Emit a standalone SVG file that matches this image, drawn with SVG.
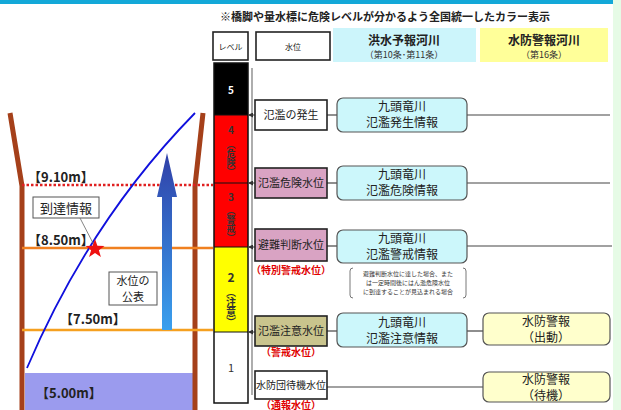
<svg xmlns="http://www.w3.org/2000/svg" width="621" height="410" viewBox="0 0 621 410">
<style>
text{font-family:"Noto Sans CJK JP","Noto Sans",sans-serif;}
.t{font-size:11px;fill:#222;text-anchor:middle;}
.tb{font-size:12px;fill:#222;text-anchor:middle;}
.r{font-size:10px;fill:#e00000;font-weight:bold;text-anchor:middle;}
.lv{font-size:10px;fill:#333;font-weight:bold;text-anchor:middle;}
.vt{font-size:9px;fill:#333;font-weight:bold;text-anchor:middle;writing-mode:vertical-rl;}
.m{font-size:13px;fill:#222;font-weight:bold;}
.box{stroke:#222;stroke-width:1.6;}
.info{fill:#ccf7fb;stroke:#555;stroke-width:1.2;}
.winfo{fill:#ffffcc;stroke:#555;stroke-width:1.2;}
.ln{stroke:#444;stroke-width:1.2;fill:none;}
.post{stroke:#a5401a;stroke-width:5;fill:none;}
</style>
<defs>
<linearGradient id="ag" x1="0" y1="0" x2="0" y2="1">
<stop offset="0" stop-color="#3040a8"/>
<stop offset="1" stop-color="#3aa0ee"/>
</linearGradient>
<marker id="ah" markerWidth="5" markerHeight="5" refX="4" refY="2.5" orient="auto">
<path d="M0,0 L5,2.5 L0,5 z" fill="#333"/>
</marker>
</defs>
<rect x="0" y="0" width="613" height="4" fill="#13a8d8"/>
<rect x="613" y="0" width="8" height="410" fill="#e6fbe6"/>

<text x="385" y="21" style="font-size:11px;font-weight:bold;fill:#222;" text-anchor="middle">※橋脚や量水標に危険レベルが分かるよう全国統一したカラー表示</text>

<g id="header">
<rect x="213" y="32" width="35" height="28" fill="#fff" class="box"/>
<text x="230.5" y="50" style="font-size:8px;fill:#222" text-anchor="middle">レベル</text>
<rect x="256" y="32" width="74" height="28" fill="#fff" class="box"/>
<text x="293" y="50" style="font-size:8px;fill:#222" text-anchor="middle">水位</text>
<rect x="333" y="28" width="143" height="34" fill="#ccf5fb"/>
<text x="404" y="45" class="tb" style="font-weight:bold">洪水予報河川</text>
<text x="404" y="58" style="font-size:9px;fill:#333" text-anchor="middle">（第10条･第11条）</text>
<rect x="480" y="28" width="128" height="34" fill="#ffff99"/>
<text x="544" y="45" class="tb" style="font-weight:bold">水防警報河川</text>
<text x="544" y="58" style="font-size:9px;fill:#333" text-anchor="middle">（第16条）</text>
</g>

<g id="illustration">
<rect x="25" y="373" width="168" height="37" fill="#9b9bee"/>
<path class="post" d="M10,113 L22,186 L22,410"/>
<path class="post" d="M203,113 L195,186 L195,410"/>
<line x1="22" y1="185" x2="213" y2="185" stroke="#e02020" stroke-width="2.5" stroke-dasharray="2.5,2"/>
<line x1="22" y1="248" x2="213" y2="248" stroke="#f08020" stroke-width="2.5"/>
<line x1="22" y1="330" x2="213" y2="330" stroke="#f5a020" stroke-width="2.5"/>
<path d="M27,368 Q90,220 195,113" stroke="#1010dd" stroke-width="1.8" fill="none"/>
<path d="M162,330 L162,197 L157,197 L167,153 L177,197 L172,197 L172,330 Z" fill="url(#ag)"/>
<text x="28" y="182" class="m">【9.10m】</text>
<text x="28" y="245" class="m">【8.50m】</text>
<text x="60" y="324" class="m">【7.50m】</text>
<text x="36" y="398" class="m">【5.00m】</text>
<rect x="33" y="197" width="66" height="21" fill="#fff" stroke="#555" stroke-width="1"/>
<text x="66" y="213" style="font-size:13px;fill:#222" text-anchor="middle">到達情報</text>
<line x1="80" y1="218" x2="94" y2="245" stroke="#666" stroke-width="0.8"/>
<path d="M95,239 L97.4,245.7 L104.5,245.9 L98.9,250.2 L100.9,257 L95,253 L89.1,257 L91.1,250.2 L85.5,245.9 L92.6,245.7 Z" fill="#ee1111"/>
<rect x="109" y="272" width="48" height="33" fill="#fff" stroke="#555" stroke-width="1"/>
<text x="133" y="285" style="font-size:11px;fill:#222" text-anchor="middle">水位の</text>
<text x="133" y="301" style="font-size:11px;fill:#222" text-anchor="middle">公表</text>
</g>

<g id="levelbar">
<rect x="214" y="63" width="34" height="52" fill="#000"/>
<rect x="214" y="115" width="34" height="68" fill="#ff0000"/>
<rect x="214" y="183" width="34" height="64" fill="#ff0000"/>
<rect x="214" y="247" width="34" height="85" fill="#ffff00"/>
<rect x="214" y="332" width="34" height="71" fill="#fff"/>
<rect x="214" y="63" width="34" height="340" fill="none" stroke="#111" stroke-width="1.5"/>
<line x1="214" y1="115" x2="248" y2="115" stroke="#111"/>
<line x1="214" y1="183" x2="248" y2="183" stroke="#111"/>
<line x1="214" y1="247" x2="248" y2="247" stroke="#111"/>
<line x1="214" y1="332" x2="248" y2="332" stroke="#111"/>
<text x="231" y="94" style="font-size:10px;fill:#fff;font-weight:bold" text-anchor="middle">5</text>
<text x="231" y="134" class="lv">4</text>
<text x="231" y="158" class="vt">（危険）</text>
<text x="231" y="201" class="lv">3</text>
<text x="231" y="224" class="vt">（警戒）</text>
<text x="231" y="282" style="font-size:12px;fill:#333;font-weight:bold" text-anchor="middle">2</text>
<text x="231" y="307" class="vt" style="font-size:10px">（注意）</text>
<text x="231" y="372" style="font-size:11px;fill:#333" text-anchor="middle">1</text>
</g>

<g id="connectors">
<line x1="252" y1="68" x2="252" y2="395" stroke="#777" stroke-width="1.2"/>
<line x1="255" y1="115" x2="249" y2="115" stroke="#333" marker-end="url(#ah)"/>
<line x1="255" y1="183" x2="249" y2="183" stroke="#333" marker-end="url(#ah)"/>
<line x1="255" y1="247" x2="249" y2="247" stroke="#333" marker-end="url(#ah)"/>
<line x1="255" y1="332" x2="249" y2="332" stroke="#333" marker-end="url(#ah)"/>
<line class="ln" x1="327" y1="115" x2="337" y2="115"/>
<line class="ln" x1="467" y1="115" x2="610" y2="115"/>
<line class="ln" x1="327" y1="183" x2="337" y2="183"/>
<line class="ln" x1="467" y1="183" x2="610" y2="183"/>
<line class="ln" x1="327" y1="246" x2="337" y2="246"/>
<line class="ln" x1="467" y1="246" x2="612" y2="246"/>
<line class="ln" x1="327" y1="331" x2="337" y2="331"/>
<line class="ln" x1="467" y1="331" x2="483" y2="331"/>
<line class="ln" x1="327" y1="387" x2="483" y2="387"/>
</g>

<g id="wl-hassei">
<rect x="255" y="100" width="72" height="30" fill="#fff" class="box"/>
<text x="291" y="119" class="t">氾濫の発生</text>
</g>
<g id="wl-kiken">
<rect x="255" y="168" width="72" height="30" fill="#d9a3c3" class="box"/>
<text x="291" y="187" class="t">氾濫危険水位</text>
</g>
<g id="wl-hinan">
<rect x="255" y="229" width="72" height="32" fill="#d9a3c3" class="box"/>
<text x="291" y="249" class="t">避難判断水位</text>
<text x="291" y="274" class="r">（特別警戒水位）</text>
</g>
<g id="wl-chui">
<rect x="255" y="316" width="72" height="30" fill="#c9c48d" class="box"/>
<text x="291" y="335" class="t">氾濫注意水位</text>
<text x="291" y="356" class="r">（警戒水位）</text>
</g>
<g id="wl-taiki">
<rect x="255" y="371" width="72" height="28" fill="#fff" class="box"/>
<text x="291" y="389" style="font-size:10px;fill:#222" text-anchor="middle">水防団待機水位</text>
<text x="291" y="409" class="r">（通報水位）</text>
</g>

<g id="info-hassei">
<rect x="337" y="98" width="130" height="34" rx="6" class="info"/>
<text x="402" y="111" class="tb">九頭竜川</text>
<text x="402" y="127" class="tb">氾濫発生情報</text>
</g>
<g id="info-kiken">
<rect x="337" y="166" width="130" height="34" rx="6" class="info"/>
<text x="402" y="179" class="tb">九頭竜川</text>
<text x="402" y="195" class="tb">氾濫危険情報</text>
</g>
<g id="info-keikai">
<rect x="337" y="230" width="130" height="33" rx="6" class="info"/>
<text x="402" y="243" class="tb">九頭竜川</text>
<text x="402" y="259" class="tb">氾濫警戒情報</text>
</g>
<g id="note">
<path d="M353,268 Q350,268 350,271 L350,295 Q350,298 353,298" fill="none" stroke="#555" stroke-width="0.8"/>
<path d="M463,268 Q466,268 466,271 L466,295 Q466,298 463,298" fill="none" stroke="#555" stroke-width="0.8"/>
<text x="408" y="276" style="font-size:6px;fill:#333" text-anchor="middle">避難判断水位に達した場合、また</text>
<text x="408" y="285" style="font-size:6px;fill:#333" text-anchor="middle">は一定時間後にはん濫危険水位</text>
<text x="408" y="294" style="font-size:6px;fill:#333" text-anchor="middle">に到達することが見込まれる場合</text>
</g>
<g id="info-chui">
<rect x="337" y="313" width="130" height="34" rx="6" class="info"/>
<text x="402" y="327" class="tb">九頭竜川</text>
<text x="402" y="343" class="tb">氾濫注意情報</text>
</g>
<g id="suibo-shutsudo">
<rect x="483" y="313" width="127" height="32" rx="6" class="winfo"/>
<text x="546" y="326" class="tb">水防警報</text>
<text x="546" y="342" class="tb">（出動）</text>
</g>
<g id="suibo-taiki">
<rect x="483" y="372" width="127" height="30" rx="6" class="winfo"/>
<text x="546" y="384" class="tb">水防警報</text>
<text x="546" y="400" class="tb">（待機）</text>
</g>
</svg>
